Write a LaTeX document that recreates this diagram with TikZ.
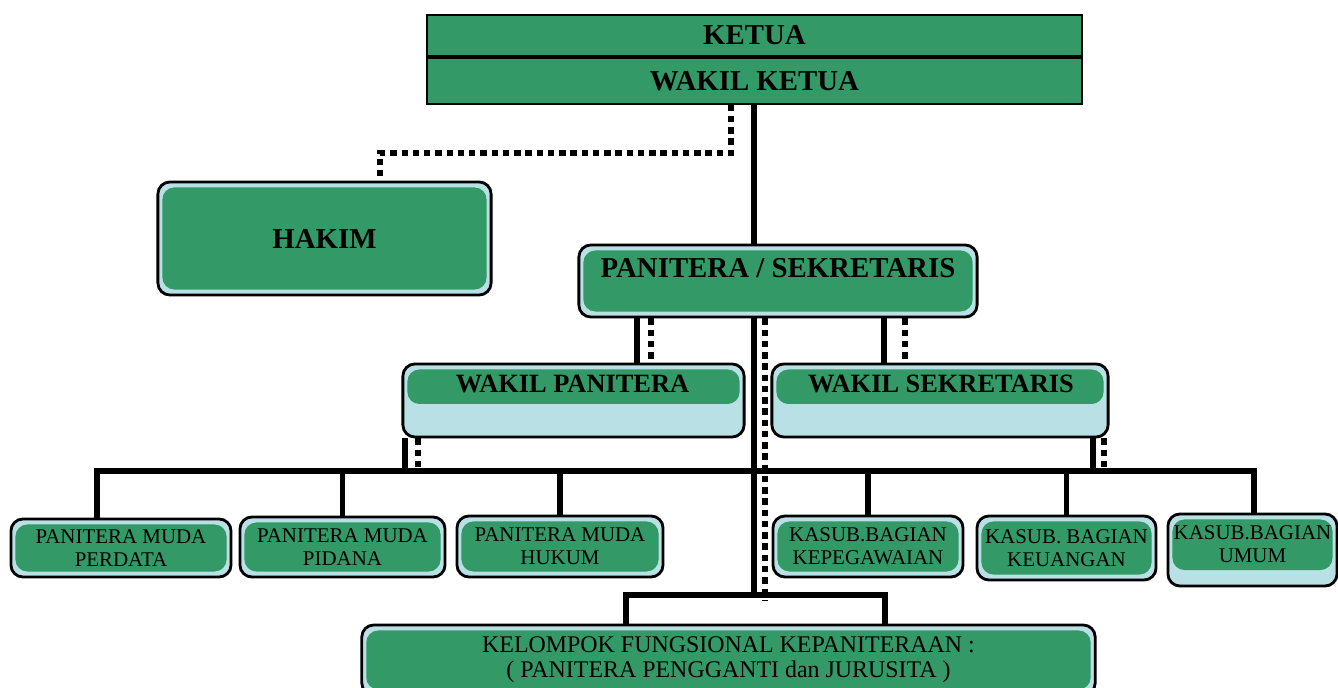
\documentclass[tikz,border=0pt]{standalone}
\usepackage{fontspec}
\setmainfont{Liberation Serif}

\definecolor{boxgreen}{RGB}{51,153,102}
\definecolor{paleblue}{RGB}{185,224,228}

\tikzset{
  solidline/.style={line width=1.45pt},
  dotline/.style={line width=1.5pt, dash pattern=on 1.8pt off 1.4pt},
  bigtitle/.style={font=\fontsize{8.2}{9.5}\selectfont\bfseries},
  midtitle/.style={font=\fontsize{7.5}{9}\selectfont\bfseries},
  smalltext/.style={font=\fontsize{5.95}{6.5}\selectfont},
  headbox/.style={draw, line width=0.5pt, fill=boxgreen, minimum width=6.55cm, inner sep=0pt, bigtitle},
  unitbox/.style={draw, line width=0.8pt, rounded corners=0.12cm, fill=paleblue, inner sep=0pt, align=center,
    path picture={\fill[boxgreen] ([shift={(0.045cm,-0.055cm)}]path picture bounding box.north west)
      rectangle ([shift={(-0.045cm,#1)}]path picture bounding box.south east);}},
  unitbox/.default=0.055cm
}

\begin{document}
\begin{tikzpicture}[x=0.01cm, y=-0.01cm]
  \useasboundingbox (0,0) rectangle (1338,688);

  % pimpinan
  \node[headbox, minimum height=0.41cm] (ketua) at (754.5,35.5) {KETUA};
  \node[headbox, minimum height=0.46cm, anchor=north] (wketua) at (ketua.south) {WAKIL KETUA};

  \node[unitbox, minimum width=3.33cm, minimum height=1.13cm, bigtitle] (hakim) at (324.5,238.5) {HAKIM};

  \node[unitbox, minimum width=3.98cm, minimum height=0.72cm] (pan) at (778,281) {};
  \node[bigtitle, anchor=base] (panlbl) at (778,278) {PANITERA / SEKRETARIS};

  \node[unitbox=0.33cm, minimum width=3.41cm, minimum height=0.73cm] (wpan) at (573.5,400.5) {};
  \node[midtitle, anchor=base] (wplbl) at (572.5,393) {WAKIL PANITERA};
  \node[unitbox=0.33cm, minimum width=3.36cm, minimum height=0.73cm] (wsek) at (940,400.5) {};
  \node[midtitle, anchor=base] (wslbl) at (941,393) {WAKIL SEKRETARIS};

  % unit kerja
  \begin{scope}[every node/.style={unitbox, smalltext}]
    \node[minimum width=2.20cm, minimum height=0.58cm] (perdata)  at (121,548)    {PANITERA MUDA\\PERDATA};
    \node[minimum width=2.05cm, minimum height=0.60cm] (pidana)   at (342.5,547)  {PANITERA MUDA\\PIDANA};
    \node[minimum width=2.06cm, minimum height=0.61cm] (hukum)    at (560,546.5)  {PANITERA MUDA\\HUKUM};
    \node[minimum width=1.90cm, minimum height=0.61cm] (kepeg)    at (868,546.5)  {KASUB.BAGIAN\\KEPEGAWAIAN};
    \node[minimum width=1.79cm, minimum height=0.64cm] (keuangan) at (1066.5,548) {KASUB. BAGIAN\\KEUANGAN};
    \node[unitbox=0.16cm, minimum width=1.69cm, minimum height=0.72cm, text depth=0.12cm] (umum) at (1252.5,550) {KASUB.BAGIAN\\UMUM};
    \node[minimum width=7.33cm, minimum height=0.70cm, font=\fontsize{6.8}{7.1}\selectfont] (kel) at (728.5,660)
      {KELOMPOK FUNGSIONAL KEPANITERAAN :\\( PANITERA PENGGANTI dan JURUSITA )};
  \end{scope}

  \coordinate (hk) at (731,153);
  \coordinate (hh) at (380,153);
  \coordinate (trunk) at (754,595);
  \coordinate (dtrunk) at (765,600);
  \coordinate (kl) at (626,595);
  \coordinate (kr) at (885,595);
  \coordinate (pw) at (637,340);
  \coordinate (pwd) at (651,340);
  \coordinate (ps) at (884,340);
  \coordinate (psd) at (905,340);
  \coordinate (wpl) at (405,471);
  \coordinate (wpd) at (418,471);
  \coordinate (wsr) at (1093,471);
  \coordinate (wsd) at (1104,471);
  \coordinate (barl) at (97,471);
  \coordinate (barr) at (1254,471);

  % garis komando
  \draw[solidline] (trunk |- wketua.south) -- (trunk |- pan.north);
  \draw[solidline] (trunk |- pan.south) -- (trunk);
  \draw[solidline] (kl |- kel.north) -- (kl) -- (kr) -- (kr |- kel.north);
  \draw[solidline] (pw |- pan.south) -- (pw |- wpan.north);
  \draw[solidline] (ps |- pan.south) -- (ps |- wsek.north);
  \draw[solidline] (wpl |- wpan.south) -- (wpl);
  \draw[solidline] (wsr |- wsek.south) -- (wsr);
  \draw[solidline] (barl |- perdata.north) -- (barl) -- (barr) -- (barr |- umum.north);
  \draw[solidline] (pidana.north |- barl) -- (pidana.north);
  \draw[solidline] (hukum.north |- barl) -- (hukum.north);
  \draw[solidline] (kepeg.north |- barl) -- (kepeg.north);
  \draw[solidline] (keuangan.north |- barl) -- (keuangan.north);

  % garis koordinasi
  \draw[dotline] (hk |- wketua.south) -- (hk) -- (hh) -- (hh |- hakim.north);
  \draw[dotline] (dtrunk |- pan.south) -- (dtrunk);
  \draw[dotline] (pwd |- pan.south) -- (pwd |- wpan.north);
  \draw[dotline] (psd |- pan.south) -- (psd |- wsek.north);
  \draw[dotline] (wpd |- wpan.south) -- (wpd);
  \draw[dotline] (wsd |- wsek.south) -- (wsd);

\end{tikzpicture}
\end{document}
